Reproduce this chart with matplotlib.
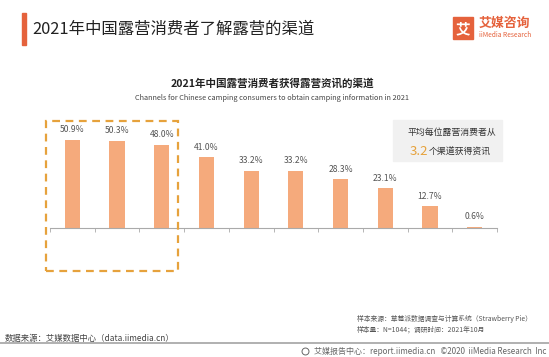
import matplotlib
matplotlib.use('Agg')
import matplotlib.pyplot as plt
from matplotlib.patches import Rectangle
import numpy as np

plt.rcParams['font.family'] = ['Noto Sans CJK SC', 'DejaVu Sans']

# data
shares = [50.9, 50.3, 48.0, 41.0, 33.2, 33.2, 28.3, 23.1, 12.7, 0.6]
labels = ['%.1f%%' % v for v in shares]

title = '2021年中国露营消费者了解露营的渠道'
sub_cn = '2021年中国露营消费者获得露营资讯的渠道'
sub_en = 'Channels for Chinese camping consumers to obtain camping information in 2021'
note_line1 = '平均每位露营消费者从'
note_num = '3.2'
note_line2 = '个渠道获得资讯'
sample_src = '样本来源：草莓派数据调查与计算系统（Strawberry Pie）'
sample_size = '样本量：N=1044；调研时间：2021年10月'
data_src = '数据来源：艾媒数据中心（data.iimedia.cn）'
footer = '艾媒报告中心：report.iimedia.cn   ©2020  iiMedia Research  Inc'

W, H = 549, 357
BAR = '#F5AA7C'
RED = '#E5623C'
GOLD = '#E6A23C'

fig = plt.figure(figsize=(W / 100, H / 100), dpi=100)


def fx(px):
    return px / W


def fy(py):
    return 1 - py / H


# header
fig.patches.append(Rectangle((fx(22), fy(45)), fx(3.5), (45 - 13) / H,
                             transform=fig.transFigure, color=RED))
fig.text(fx(32), fy(29), title, fontsize=11.8, color='#222222', va='center')

# logo
fig.patches.append(Rectangle((fx(453), fy(39)), fx(20), 22 / H,
                             transform=fig.transFigure, color=RED))
fig.text(fx(463), fy(28), '艾', fontsize=10.5, color='white', weight='bold',
         ha='center', va='center')
fig.text(fx(479), fy(23), '艾媒咨询', fontsize=9.3, color=RED, weight='bold',
         va='center')
fig.text(fx(479), fy(35), 'iiMedia Research', fontsize=4.8, color=RED,
         va='center')

# chart titles
fig.text(fx(272), fy(83), sub_cn, fontsize=7.6, weight='bold', color='#222222',
         ha='center', va='center')
fig.text(fx(272), fy(98), sub_en, fontsize=5.3, color='#444444',
         ha='center', va='center')

# bars
ymax = 60
ax = fig.add_axes([fx(50), fy(228), fx(497) - fx(50), (1.729 * ymax) / H])
x = np.arange(len(shares))
ax.bar(x, shares, width=0.34, color=BAR, zorder=2)
for xi, v, lab in zip(x, shares, labels):
    ax.text(xi, v + 3.2, lab, ha='center', va='bottom', fontsize=6.2,
            color='#555555')
ax.set_xlim(-0.5, len(shares) - 0.5)
ax.set_ylim(0, ymax)
ax.set_xticks(np.arange(-0.5, len(shares), 1.0))
ax.set_xticklabels([])
ax.set_yticks([])
ax.tick_params(axis='x', length=3, width=0.6, color='#aaaaaa', direction='out')
for side in ['top', 'right', 'left']:
    ax.spines[side].set_visible(False)
ax.spines['bottom'].set_color('#aaaaaa')
ax.spines['bottom'].set_linewidth(0.8)
ax.patch.set_alpha(0)

# dashed highlight box round the top three
fig.patches.append(Rectangle((fx(46), fy(271)), fx(132), (271 - 121) / H,
                             transform=fig.transFigure, fill=False,
                             edgecolor=GOLD, linewidth=1.6,
                             linestyle=(0, (3.5, 2.5))))

# note box
fig.patches.append(Rectangle((fx(393), fy(161)), fx(109), (161 - 120) / H,
                             transform=fig.transFigure, color='#F1F1F1'))
fig.text(fx(452), fy(132), note_line1, fontsize=6.4, color='#333333',
         ha='center', va='center')
fig.text(fx(428), fy(151.5), note_num, fontsize=9.5, color=GOLD,
         ha='right', va='center')
fig.text(fx(429), fy(152), note_line2, fontsize=6.4, color='#333333',
         ha='left', va='center')

# footer
fig.text(fx(357), fy(319), sample_src, fontsize=4.9, color='#555555',
         va='center')
fig.text(fx(357), fy(330), sample_size, fontsize=4.9, color='#555555',
         va='center')
fig.text(fx(5), fy(338), data_src, fontsize=6, color='#444444', va='center')
fig.add_artist(plt.Line2D([0, 1], [fy(343), fy(343)], transform=fig.transFigure,
                          color='#b0b0b0', linewidth=1.4))
fig.text(fx(546), fy(351), footer, fontsize=5.8, color='#666666',
         ha='right', va='center')
fig.add_artist(plt.Line2D([fx(305)], [fy(351)], transform=fig.transFigure,
                          marker='o', markersize=5, markerfacecolor='none',
                          markeredgecolor='#666666', markeredgewidth=0.7))

fig.savefig('out.png', dpi=100)
